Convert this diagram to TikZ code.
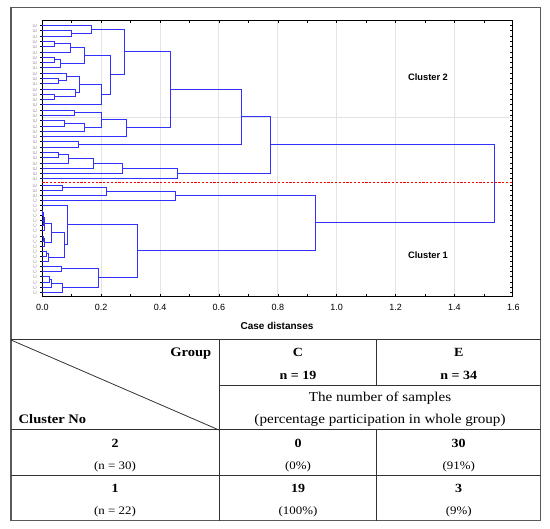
\documentclass[tikz,border=0pt]{standalone}
\usepackage{fontspec}
\setmainfont{Liberation Serif}[FakeStretch=1.12]
\setsansfont{Liberation Sans}
\usetikzlibrary{calc}

\definecolor{dendblue}{RGB}{50,50,255}
\definecolor{framegray}{RGB}{90,90,90}
\definecolor{tabgray}{RGB}{50,50,50}

\tikzset{
  dend/.style={draw=dendblue, line width=1.5pt},
  gridline/.style={gray!22, line width=0.9pt},
  tick/.style={black, line width=0.6pt},
  tabline/.style={tabgray, line width=1pt},
  leaflab/.style={gray!80, font=\sffamily\fontsize{5.2}{5.2}\selectfont, rotate=90, inner sep=0pt},
  ticklab/.style={font=\sffamily\fontsize{9}{9}\selectfont, inner sep=0pt},
  clusterlab/.style={font=\sffamily\bfseries\fontsize{9.3}{9.3}\selectfont, inner sep=0pt},
  hdr/.style={font=\bfseries\fontsize{13}{13}\selectfont, inner sep=0pt},
  cellnum/.style={font=\bfseries\fontsize{12.5}{12.5}\selectfont, inner sep=0pt},
  cellpct/.style={font=\fontsize{11.5}{11.5}\selectfont, inner sep=0pt},
  celltxt/.style={font=\fontsize{13.5}{13.5}\selectfont, inner sep=0pt},
}

% join two clusters #2 and #3 at distance #4, new cluster point is #1
\newcommand{\mrg}[4]{%
  \coordinate (h) at ({floor(42.3+294.4*#4)+0.5},0);
  \draw[dend] (#2) -- (#2 -| h) -- (#3 -| h) -- (#3);
  \path let \p1=(#2 -| h), \p2=(#3 -| h) in
    coordinate (#1) at (\x1,{(floor(0.5*(\y1+\y2))+0.5)*1pt});
}

\begin{document}
\begin{tikzpicture}[x=1pt,y=-1pt]
  \useasboundingbox (0,0) rectangle (550,529);

  % Outer frame
  \coordinate (frame-tl) at (11,7.3);
  \coordinate (frame-br) at (540.7,520.7);
  \draw[framegray, line width=1.4pt] (frame-tl) rectangle (frame-br);

  % Grid
  \foreach \v in {0.2,0.4,0.6,0.8,1.0,1.2,1.4} {
    \draw[gridline] ({42.3+294.4*\v},20.3) -- ({42.3+294.4*\v},296.7);
  }
  \draw[gridline] (42.3,117.3) -- (512.7,117.3);

  % Plot box and ticks
  \coordinate (plot-tl) at (42.3,20.3);
  \coordinate (plot-br) at (512.7,296.7);
  \draw[line width=1pt] (plot-tl) rectangle (plot-br);
  \foreach \k in {1,...,15} {
    \draw[tick] ({42.3+29.44*\k},20.3) -- ++(0,2.5);
    \draw[tick] ({42.3+29.44*\k},296.7) -- ++(0,-2.5);
  }

  % Tick labels
  \foreach \v in {0.0,0.2,0.4,0.6,0.8,1.0,1.2,1.4,1.6} {
    \node[ticklab] at ({42.3+294.4*\v},307.5) {\v};
  }
  \node[font=\sffamily\bfseries\fontsize{10}{10}\selectfont, inner sep=0pt] (xlab) at (277,326) {Case distanses};

  % Leaves, cluster 2
  \foreach \i in {0,...,29} {
    \coordinate (a\i) at (42.3,{floor(25.7+5.286*\i)+0.5});
    \draw[tick] (a\i) -- ++(-2.2,0);
    \draw[tick] (a\i -| plot-br) -- ++(-2.5,0);
    \node[leaflab] at ($(a\i)+(-7.5,0)$) {E};
  }
  % Leaves, cluster 1
  \foreach \i in {0,...,21} {
    \coordinate (b\i) at (42.3,{floor(185+5.11*\i)+0.5});
    \draw[tick] (b\i) -- ++(-2.2,0);
    \draw[tick] (b\i -| plot-br) -- ++(-2.5,0);
    \node[leaflab] at ($(b\i)+(-7.5,0)$) {\ifnum\i<3 E\else C\fi};
  }

  % Cluster 2 tree
  \mrg{ga1}{a1}{a2}{0.10}
  \mrg{ga}{a0}{ga1}{0.168}
  \mrg{gb1}{a3}{a4}{0.043}
  \mrg{gb}{gb1}{a5}{0.097}
  \mrg{gc1}{a6}{a7}{0.041}
  \mrg{gc}{gc1}{a8}{0.063}
  \mrg{gbc}{gb}{gc}{0.143}
  \mrg{gd1}{a10}{a11}{0.055}
  \mrg{gd2}{a9}{gd1}{0.083}
  \mrg{gd3}{a13}{a14}{0.041}
  \mrg{gd4}{a12}{gd3}{0.113}
  \mrg{gd5}{gd2}{gd4}{0.128}
  \mrg{gd}{gd5}{a15}{0.2}
  \mrg{gbcd}{gbc}{gd}{0.23}
  \mrg{gad}{ga}{gbcd}{0.279}
  \mrg{ge1}{a16}{a17}{0.111}
  \mrg{ge2}{a18}{a19}{0.075}
  \mrg{ge3}{ge2}{a20}{0.145}
  \mrg{ge4}{ge1}{ge3}{0.2}
  \mrg{ge}{ge4}{a21}{0.286}
  \mrg{gae}{gad}{ge}{0.435}
  \mrg{gf}{a22}{a23}{0.122}
  \mrg{gaf}{gae}{gf}{0.677}
  \mrg{gg1}{a24}{a25}{0.054}
  \mrg{gg2}{gg1}{a26}{0.088}
  \mrg{gg3}{gg2}{a27}{0.173}
  \mrg{gg4}{gg3}{a28}{0.273}
  \mrg{gg}{gg4}{a29}{0.46}
  \mrg{clust2}{gaf}{gg}{0.775}

  % Cluster 1 tree
  \mrg{hh1}{b0}{b1}{0.067}
  \mrg{hh2}{hh1}{b2}{0.217}
  \mrg{hh}{hh2}{b3}{0.454}
  \mrg{kk1a}{b5}{b6}{0.002}
  \mrg{kk1b}{b7}{b8}{0.003}
  \mrg{kk1c}{kk1a}{kk1b}{0.004}
  \mrg{kk1}{kk1c}{b9}{0.006}
  \mrg{kk2a}{b10}{b11}{0.003}
  \mrg{kk2}{kk2a}{b12}{0.008}
  \mrg{kk}{kk1}{kk2}{0.032}
  \mrg{ll1}{b13}{b14}{0.013}
  \mrg{ll}{ll1}{b15}{0.02}
  \mrg{kl}{kk}{ll}{0.075}
  \mrg{jj}{b4}{kl}{0.085}
  \mrg{ii1}{b16}{b17}{0.064}
  \mrg{ii2a}{b18}{b19}{0.024}
  \mrg{ii2b}{ii2a}{b20}{0.032}
  \mrg{ii2}{ii2b}{b21}{0.068}
  \mrg{ii}{ii1}{ii2}{0.19}
  \mrg{ji}{jj}{ii}{0.324}
  \mrg{clust1}{hh}{ji}{0.929}

  % Root
  \mrg{root}{clust2}{clust1}{1.536}

  % Cut line
  \coordinate (cut-l) at (42.3,182.5);
  \coordinate (cut-r) at (512.7,182.5);
  \draw[red, dash pattern=on 2.2pt off 1.6pt, line width=0.8pt] (cut-l) -- (cut-r);

  \node[clusterlab] (cl2lab) at (428,76.7) {Cluster 2};
  \node[clusterlab] (cl1lab) at (428,255) {Cluster 1};

  % Table
  \draw[tabline] (11,340) -- (540.7,340);
  \draw[tabline] (219,340) -- (219,520.7);
  \draw[tabline] (376.7,340) -- (376.7,385.7);
  \draw[tabline] (376.7,430) -- (376.7,520.7);
  \draw[tabline] (219,385.7) -- (540.7,385.7);
  \draw[tabline] (11,430) -- (540.7,430);
  \draw[tabline] (11,475.7) -- (540.7,475.7);
  \draw[tabline, line width=0.8pt] (11,340) -- (219,430);

  % Table header
  \node[hdr, anchor=east] (group) at (211.5,353.3) {Group};
  \node[hdr, anchor=west] (clno) at (18.5,419.3) {Cluster No};
  \node[cellnum] (colc) at (298,352.7) {C};
  \node[cellnum] (colcn) at (298,375) {n = 19};
  \node[cellnum] (cole) at (458.7,352.7) {E};
  \node[cellnum] (colen) at (458.7,375) {n = 34};
  \node[celltxt] (samp1) at (380,398.3) {The number of samples};
  \node[celltxt] (samp2) at (380,420) {(percentage participation in whole group)};

  % Table rows
  \node[cellnum] (r2) at (115,443.3) {2};
  \node[cellpct] (r2n) at (115,466.7) {(n = 30)};
  \node[cellnum] (r2c) at (298,443.3) {0};
  \node[cellpct] (r2cp) at (298,466.7) {(0\%)};
  \node[cellnum] (r2e) at (458.7,443.3) {30};
  \node[cellpct] (r2ep) at (458.7,466.7) {(91\%)};
  \node[cellnum] (r1) at (115,488.3) {1};
  \node[cellpct] (r1n) at (115,511.7) {(n = 22)};
  \node[cellnum] (r1c) at (298,488.3) {19};
  \node[cellpct] (r1cp) at (298,511.7) {(100\%)};
  \node[cellnum] (r1e) at (458.7,488.3) {3};
  \node[cellpct] (r1ep) at (458.7,511.7) {(9\%)};
\end{tikzpicture}
\end{document}
